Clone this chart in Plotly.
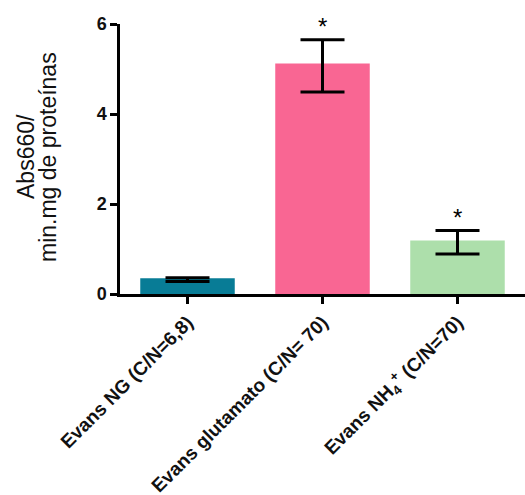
import plotly.graph_objects as go

# Bar chart: mean activity per culture medium with error bars and significance marks
categories = [
    "<b>Evans NG (C/N=6,8)</b>",
    "<b>Evans glutamato (C/N= 70)</b>",
    "<b>Evans NH<sub>4</sub><sup>+</sup> (C/N=70)</b>",
]
means = [0.35, 5.12, 1.19]
err_plus = [0.01, 0.53, 0.22]
err_minus = [0.07, 0.63, 0.30]
bar_colors = ["#087c96", "#f96693", "#addfab"]
significant = [False, True, True]
y_ticks = [0, 2, 4, 6]
y_title_lines = ["Abs660/", "min.mg de proteínas"]

FONT = "Arial, Liberation Sans, sans-serif"

fig = go.Figure(
    go.Bar(
        x=categories,
        y=means,
        marker=dict(color=bar_colors, line=dict(width=0)),
        error_y=dict(
            type="data",
            symmetric=False,
            array=err_plus,
            arrayminus=err_minus,
            color="black",
            thickness=3,
            width=22,
        ),
    )
)

# Asterisks above the significant bars
for cat, m, ep, sig in zip(categories, means, err_plus, significant):
    if sig:
        fig.add_annotation(
            x=cat, y=m + ep, text="*", showarrow=False,
            yanchor="bottom", yshift=-2,
            font=dict(family=FONT, size=24, color="black"),
        )

# Two-line y-axis title, one annotation per line for tight line spacing
for line, shift in zip(y_title_lines, [-94, -72]):
    fig.add_annotation(
        xref="paper", yref="paper", x=0, y=0.5, xshift=shift, yshift=2,
        text=line, textangle=-90,
        showarrow=False, xanchor="center", yanchor="middle",
        font=dict(family=FONT, size=23, color="#111111"),
    )

fig.update_layout(
    width=525, height=495,
    margin=dict(l=120, r=0, t=24, b=201, autoexpand=False),
    paper_bgcolor="white", plot_bgcolor="white",
    bargap=0.3,
    showlegend=False,
    font=dict(family=FONT, color="black"),
)
fig.update_xaxes(
    range=[-0.5, 2.5], automargin=False,
    showline=True, linecolor="black", linewidth=2.5,
    ticks="outside", ticklen=7, tickwidth=2.5, tickcolor="black",
    tickangle=-45, tickfont=dict(family=FONT, size=19, color="#111111"),
    showgrid=False, zeroline=False,
)
fig.update_yaxes(
    range=[0, 6], tickvals=y_ticks, automargin=False,
    ticktext=[f"<b>{v}</b>" for v in y_ticks],
    showline=True, linecolor="black", linewidth=2.5,
    ticks="outside", ticklen=7, tickwidth=2.5, tickcolor="black",
    tickfont=dict(family=FONT, size=18, color="#111111"),
    showgrid=False, zeroline=False,
)

fig.write_html("out.html")
